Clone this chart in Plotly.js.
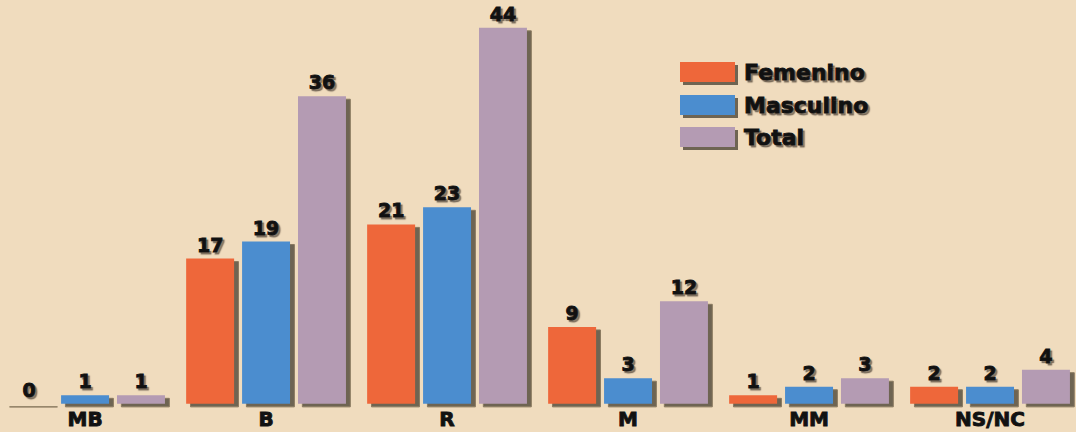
<!DOCTYPE html>
<html><head><meta charset="utf-8">
<script src="https://cdn.plot.ly/plotly-3.0.1.min.js"></script>
<style>html,body{margin:0;padding:0;background:#F0DCBE;}
#chart text{stroke:#111;stroke-width:0.9px;paint-order:stroke;}
</style>
</head><body>
<div id="chart" style="width:1076px;height:432px;"></div>
<script>
const categories = ['MB', 'B', 'R', 'M', 'MM', 'NS/NC'];
const femenino  = [0, 17, 21, 9, 1, 2];
const masculino = [1, 19, 23, 3, 2, 2];
const total     = [1, 36, 44, 12, 3, 4];
const seriesNames = ['Femenino', 'Masculino', 'Total'];
const seriesColors = ['#EE673A', '#4B8DCF', '#B49BB3'];

const idx = categories.map((c, i) => i);
const W = 0.265, slot = 0.309;
const offsets = [-slot - W/2, -W/2, slot - W/2];
const data = [femenino, masculino, total];
const shadowColor = '#6E6452';

const traces = [];
data.forEach((vals, k) => {
  traces.push({
    type: 'bar', x: idx, y: vals, base: -0.35, width: W, offset: offsets[k] + 0.024,
    marker: {color: shadowColor, line: {width: 1, color: '#8A7A60'}}, hoverinfo: 'skip', showlegend: false
  });
});
data.forEach((vals, k) => {
  traces.push({
    type: 'bar', x: idx, y: vals, width: W, offset: offsets[k], name: seriesNames[k],
    marker: {color: seriesColors[k], line: {width: 0}},
    text: vals.map(String), textposition: 'outside', cliponaxis: false,
    textfont: {family: 'DejaVu Sans', size: 19, weight: 'bold', color: '#111',
               shadow: '2px 2px 1px rgba(60,50,40,0.55)'},
    showlegend: false
  });
});

const legX0 = 680, legW = 55, legH = 20, legY = [62, 95, 127];
const shapes = [], annotations = [];
seriesNames.forEach((n, k) => {
  shapes.push({type: 'rect', xref: 'paper', yref: 'paper',
    x0: (legX0 + 3)/1076, x1: (legX0 + legW + 3)/1076,
    y0: 1 - (legY[k] + legH + 3)/409, y1: 1 - (legY[k] + 3)/409,
    fillcolor: shadowColor, line: {width: 0}});
  shapes.push({type: 'rect', xref: 'paper', yref: 'paper',
    x0: legX0/1076, x1: (legX0 + legW)/1076,
    y0: 1 - (legY[k] + legH)/409, y1: 1 - legY[k]/409,
    fillcolor: seriesColors[k], line: {width: 0}});
  annotations.push({xref: 'paper', yref: 'paper', x: (legX0 + legW + 7)/1076,
    y: 1 - (legY[k] + legH/2)/409, xanchor: 'left', yanchor: 'middle', showarrow: false,
    text: n, font: {family: 'DejaVu Sans', size: 22, weight: 'bold', color: '#111',
    shadow: '2px 2px 1px rgba(60,50,40,0.55)'}});
});

const layout = {
  width: 1076, height: 432,
  margin: {l: 0, r: 0, t: 0, b: 23},
  paper_bgcolor: '#F0DCBE', plot_bgcolor: '#F0DCBE',
  barmode: 'overlay', showlegend: false,
  xaxis: {range: [-0.47, 5.475], tickvals: idx, ticktext: categories, showgrid: false,
          zeroline: false, showline: false, ticks: '', ticklen: 0, ticklabelstandoff: -4,
          tickfont: {family: 'DejaVu Sans', size: 20, weight: 'bold', color: '#111'}},
  yaxis: {range: [-0.6, 47.26], visible: false, showgrid: false, zeroline: false},
  shapes: shapes, annotations: annotations
};
Plotly.newPlot('chart', traces, layout, {displayModeBar: false, staticPlot: true});
</script>
</body></html>
